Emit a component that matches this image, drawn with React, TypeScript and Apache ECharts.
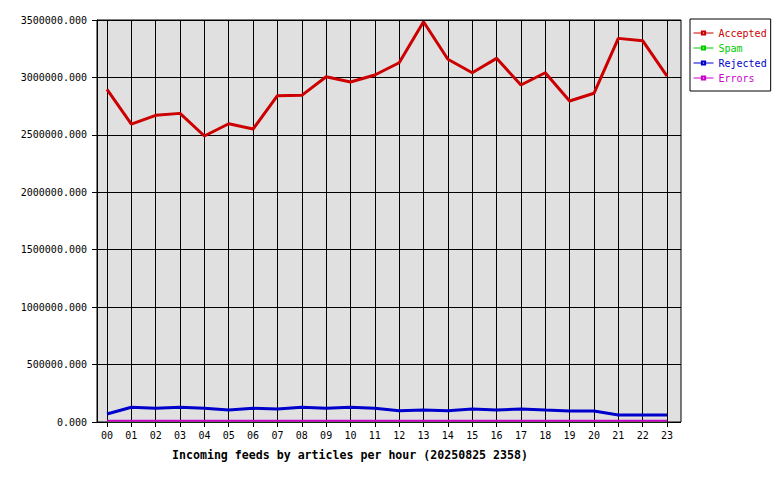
import React, { useEffect, useRef } from "react";
import * as echarts from "echarts";

const hours = ["00","01","02","03","04","05","06","07","08","09","10","11","12","13","14","15","16","17","18","19","20","21","22","23"];
const accepted = [2895000,2594000,2670000,2687000,2490000,2597000,2551000,2841000,2844000,3006000,2960000,3021000,3128000,3485000,3158000,3041000,3166000,2934000,3041000,2795000,2862000,3340000,3320000,3012000];
const spam = [0,0,0,0,0,0,0,0,0,0,0,0,0,0,0,0,0,0,0,0,0,0,0,0];
const rejected = [70000,128000,119000,128000,119000,104000,119000,113000,128000,119000,128000,119000,98000,104000,98000,113000,104000,113000,104000,96000,96000,61000,61000,61000];
const errors = [10000,10000,10000,10000,10000,10000,10000,10000,10000,10000,10000,10000,10000,10000,10000,10000,10000,10000,10000,10000,10000,10000,10000,10000];
const yTicks = { min: 0, max: 3500000, step: 500000 };
const titleText = "Incoming feeds by articles per hour (20250825 2358)";

const RED = "#cc0000", GREEN = "#00cc00", BLUE = "#0000cc", MAGENTA = "#cc00cc";
const MONO = "DejaVu Sans Mono";

export default function App() {
  const ref = useRef<HTMLDivElement>(null);
  useEffect(() => {
    document.body.style.margin = "0";
    const chart = echarts.init(ref.current!, null, { renderer: "svg" });
    const mk = (name: string, data: number[], color: string, width: number, z: number) => ({
      name, type: "line", data, xAxisIndex: 1, yAxisIndex: 1, z,
      symbol: "emptyRect", symbolSize: 4, showSymbol: false,
      itemStyle: { color, borderColor: color, borderWidth: 1 },
      lineStyle: { color, width },
      emphasis: { disabled: true },
    });
    chart.setOption({
      animation: false,
      backgroundColor: "#ffffff",
      textStyle: { fontFamily: MONO },
      title: {
        text: titleText, left: 167, top: 444,
        textStyle: { fontFamily: MONO, fontSize: 11.6, fontWeight: "bold", color: "#000" },
      },
      legend: {
        orient: "vertical", left: 690, top: 19,
        padding: [8, 4, 7, 3], itemGap: 3, itemWidth: 20, itemHeight: 4,
        backgroundColor: "#fff", borderColor: "#000", borderWidth: 1, borderRadius: 0,
        lineStyle: { width: 1 },
        textStyle: { fontFamily: MONO, fontSize: 10, height: 12, lineHeight: 12 },
        selectedMode: false,
        data: [
          { name: "Accepted", textStyle: { color: RED } },
          { name: "Spam", textStyle: { color: GREEN } },
          { name: "Rejected", textStyle: { color: BLUE } },
          { name: "Errors", textStyle: { color: MAGENTA } },
        ],
      },
      grid: [
        { left: 97, right: 99, top: 20, bottom: 58, show: true, backgroundColor: "#e0e0e0", borderColor: "#000", borderWidth: 1 },
        { left: 107, right: 113, top: 20, bottom: 58 },
      ],
      xAxis: [
        { type: "value", gridIndex: 0, min: 0, max: 1, show: false },
        {
          type: "category", gridIndex: 1, data: hours, boundaryGap: false,
          axisLine: { lineStyle: { color: "#000" } },
          axisTick: { show: true, length: 5, alignWithLabel: true, lineStyle: { color: "#000" } },
          axisLabel: { fontFamily: MONO, fontSize: 10, color: "#000", margin: 8, interval: 0 },
          splitLine: { show: true, lineStyle: { color: "#000", width: 1 } },
        },
      ],
      yAxis: [
        {
          type: "value", gridIndex: 0, min: yTicks.min, max: yTicks.max, interval: yTicks.step,
          axisLine: { show: true, lineStyle: { color: "#000" } },
          axisTick: { show: true, length: 5, lineStyle: { color: "#000" } },
          axisLabel: { fontFamily: MONO, fontSize: 10, color: "#000", margin: 10, formatter: (v: number) => v.toFixed(3) },
          splitLine: { show: true, lineStyle: { color: "#000", width: 1 } },
        },
        { type: "value", gridIndex: 1, min: yTicks.min, max: yTicks.max, show: false },
      ],
      series: [
        mk("Accepted", accepted, RED, 3, 4),
        mk("Spam", spam, GREEN, 1, 2),
        mk("Rejected", rejected, BLUE, 3, 3),
        mk("Errors", errors, MAGENTA, 2, 3),
      ],
    });
    return () => chart.dispose();
  }, []);
  return <div ref={ref} style={{ width: 780, height: 480 }} />;
}
